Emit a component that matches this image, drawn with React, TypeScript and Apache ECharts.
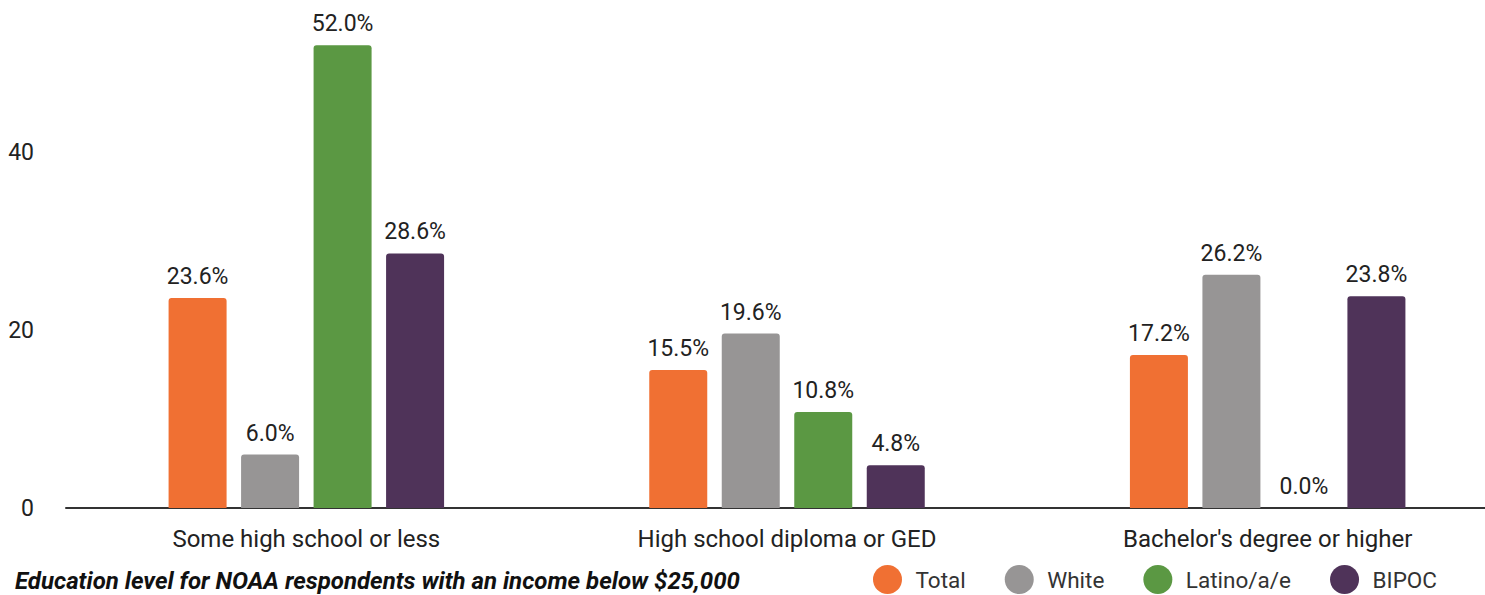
import React, { useEffect, useRef } from "react";
import * as echarts from "echarts";

const categories = ["Some high school or less", "High school diploma or GED", "Bachelor's degree or higher"];
const seriesNames = ["Total", "White", "Latino/a/e", "BIPOC"];
const totalValues = [23.6, 15.5, 17.2];
const whiteValues = [6.0, 19.6, 26.2];
const latinoValues = [52.0, 10.8, 0.0];
const bipocValues = [28.6, 4.8, 23.8];
const colors = ["#F07033", "#979595", "#5B9843", "#4F3359"];
const titleText = "Education level for NOAA respondents with an income below $25,000";

export default function App() {
  const ref = useRef<HTMLDivElement>(null);
  useEffect(() => {
    if (!ref.current) return;
    const chart = echarts.init(ref.current, null, { renderer: "svg" });
    const dataSets = [totalValues, whiteValues, latinoValues, bipocValues];
    const font = "Roboto, 'Noto Sans', sans-serif";
    chart.setOption({
      animation: false,
      textStyle: { fontFamily: font },
      title: {
        text: titleText,
        left: 15,
        top: 569,
        padding: 0,
        textStyle: { fontSize: 24, fontStyle: "italic", fontWeight: "bold", color: "#111", fontFamily: font },
      },
      legend: {
        data: seriesNames,
        left: 873,
        top: 565,
        padding: 0,
        icon: "path://M50,0A50,50,0,1,1,50,100A50,50,0,1,1,50,0Z",
        itemWidth: 34,
        itemHeight: 29,
        itemGap: 39,
        textStyle: { fontSize: 22.5, color: "#333", fontFamily: font, padding: [0, 0, 0, 6] },
      },
      grid: { left: 66, right: -23, top: -26, bottom: 87, containLabel: false, outerBoundsMode: "none" },
      xAxis: {
        type: "category",
        data: categories,
        axisLine: { show: true, lineStyle: { color: "#333", width: 2 } },
        axisTick: { show: false },
        axisLabel: { fontSize: 24, color: "#222", margin: 19, fontFamily: font },
      },
      yAxis: {
        type: "value",
        min: 0,
        max: 60,
        interval: 20,
        splitLine: { show: false },
        axisLine: { show: false },
        axisTick: { show: false },
        axisLabel: { fontSize: 23, color: "#222", margin: 32, fontFamily: font, showMaxLabel: false },
      },
      series: seriesNames.map((name, i) => ({
        name,
        type: "bar",
        data: dataSets[i],
        barWidth: 58,
        barGap: "25%",
        itemStyle: { color: colors[i], borderRadius: [3, 3, 0, 0] },
        label: {
          show: true,
          position: "top",
          distance: 10,
          fontSize: 23,
          color: "#222",
          fontFamily: font,
          formatter: (p: any) => `${Number(p.value).toFixed(1)}%`,
        },
      })),
    });
    return () => chart.dispose();
  }, []);
  return <div ref={ref} style={{ position: "absolute", left: 0, top: 0, width: 1485, height: 595 }} />;
}
